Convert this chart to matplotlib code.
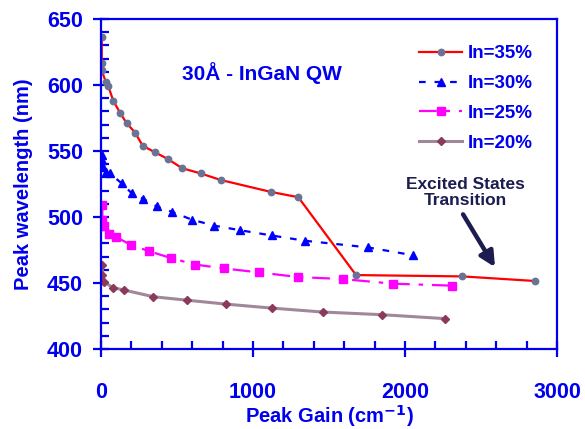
import matplotlib
matplotlib.use("Agg")
import matplotlib.pyplot as plt
from matplotlib.ticker import MultipleLocator

plt.rcParams['font.family'] = ['Liberation Sans', 'DejaVu Sans']
plt.rcParams['font.weight'] = 'bold'
plt.rcParams['mathtext.default'] = 'bf'

BLUE = '#0000ee'

# In=35%
x35 = [5, 5, 5, 31, 48, 81, 125, 169, 224, 274, 355, 439, 533, 656, 789, 1118, 1298, 1678, 2377, 2857]
y35 = [636, 617, 611, 602.5, 599, 588, 579, 571, 564, 554, 549, 544, 537, 533, 528, 519, 515, 456, 455, 451.5]
# In=30%
x30 = [5, 5, 11, 31, 59, 136, 202, 274, 366, 465, 597, 743, 914, 1123, 1342, 1754, 2055]
y30 = [547, 543, 538, 534, 533, 525.5, 518, 514, 508, 504, 498, 493.5, 490, 486, 482, 477, 471]
# In=25%
x25 = [9, 9, 20, 55, 96, 195, 318, 458, 618, 811, 1042, 1298, 1590, 1919, 2307]
y25 = [509, 498, 493, 487, 485, 479, 474, 469, 464, 461, 458, 454.5, 453, 449.5, 448]
# In=20%
x20 = [9, 9, 20, 77, 151, 344, 564, 822, 1123, 1459, 1847, 2265]
y20 = [464, 456, 451, 446.5, 444.7, 439.6, 437, 434, 431, 428, 426, 423]

labels = ['In=35%', 'In=30%', 'In=25%', 'In=20%']

fig = plt.figure(figsize=(5.85, 4.29), dpi=100)
ax = fig.add_axes([101/585, 1-349/429, (557-101)/585, (349-19)/429])

ax.plot(x35, y35, color='#ff0000', lw=1.6, marker='o', ms=4.6, mfc='#6b7394', mec='#6b7394', label=labels[0])
ax.plot(x30, y30, color='#0000ff', lw=1.6, ls=(0, (3, 4)), marker='^', ms=6, mfc='#0000ff', mec='#0000ff', label=labels[1])
ax.plot(x25, y25, color='#ff00ff', lw=1.6, ls=(0, (8, 4, 2, 4)), marker='s', ms=5.2, mfc='#ff00ff', mec='#ff00ff', label=labels[2])
ax.plot(x20, y20, color='#a08898', lw=2.2, marker='D', ms=4.5, mfc='#8b3a5e', mec='#8b3a5e', label=labels[3])

ax.set_xlim(0, 3000)
ax.set_ylim(400, 650)
ax.xaxis.set_major_locator(MultipleLocator(1000))
ax.xaxis.set_minor_locator(MultipleLocator(200))
ax.yaxis.set_major_locator(MultipleLocator(50))
ax.yaxis.set_minor_locator(MultipleLocator(10))

for s in ax.spines.values():
    s.set_color(BLUE)
    s.set_linewidth(1.6)

ax.tick_params(which='major', direction='inout', length=12, width=1.6, color=BLUE,
               labelcolor=BLUE, labelsize=15.5)
ax.tick_params(which='minor', direction='in', length=6, width=1.6, color=BLUE)
ax.tick_params(axis='x', which='major', pad=18)
ax.tick_params(axis='y', which='major', pad=7)
for lab in ax.get_xticklabels() + ax.get_yticklabels():
    lab.set_fontweight('bold')

ax.set_xlabel('Peak Gain (cm$^{-1}$)', color=BLUE, fontsize=14.5, fontweight='bold')
ax.xaxis.set_label_coords(0.5, -0.163)
ax.set_ylabel('Peak wavelength (nm)', color=BLUE, fontsize=14.5, fontweight='bold', labelpad=10)

ax.text(0.354, 0.835, '30Å - InGaN QW', transform=ax.transAxes, color=BLUE,
        fontsize=15, fontweight='bold', ha='center', va='center')

NAVY = '#1c1c50'
ax.annotate('', xy=(2592, 462), xytext=(2382, 502),
            arrowprops=dict(arrowstyle='-|>,head_length=0.9,head_width=0.45', color=NAVY, lw=3.2,
                            shrinkA=0, shrinkB=0))
ax.text(2395, 518.6, 'Excited States\nTransition', color=NAVY, fontsize=12.5,
        fontweight='bold', ha='center', va='center', linespacing=1.15)

leg = ax.legend(loc='upper right', bbox_to_anchor=(0.984, 0.972), frameon=False,
                handlelength=2.3, handletextpad=0.3, labelspacing=0.68,
                prop={'weight': 'bold', 'size': 13.5})
for t in leg.get_texts():
    t.set_color(BLUE)

fig.savefig('out.png', dpi=100)
